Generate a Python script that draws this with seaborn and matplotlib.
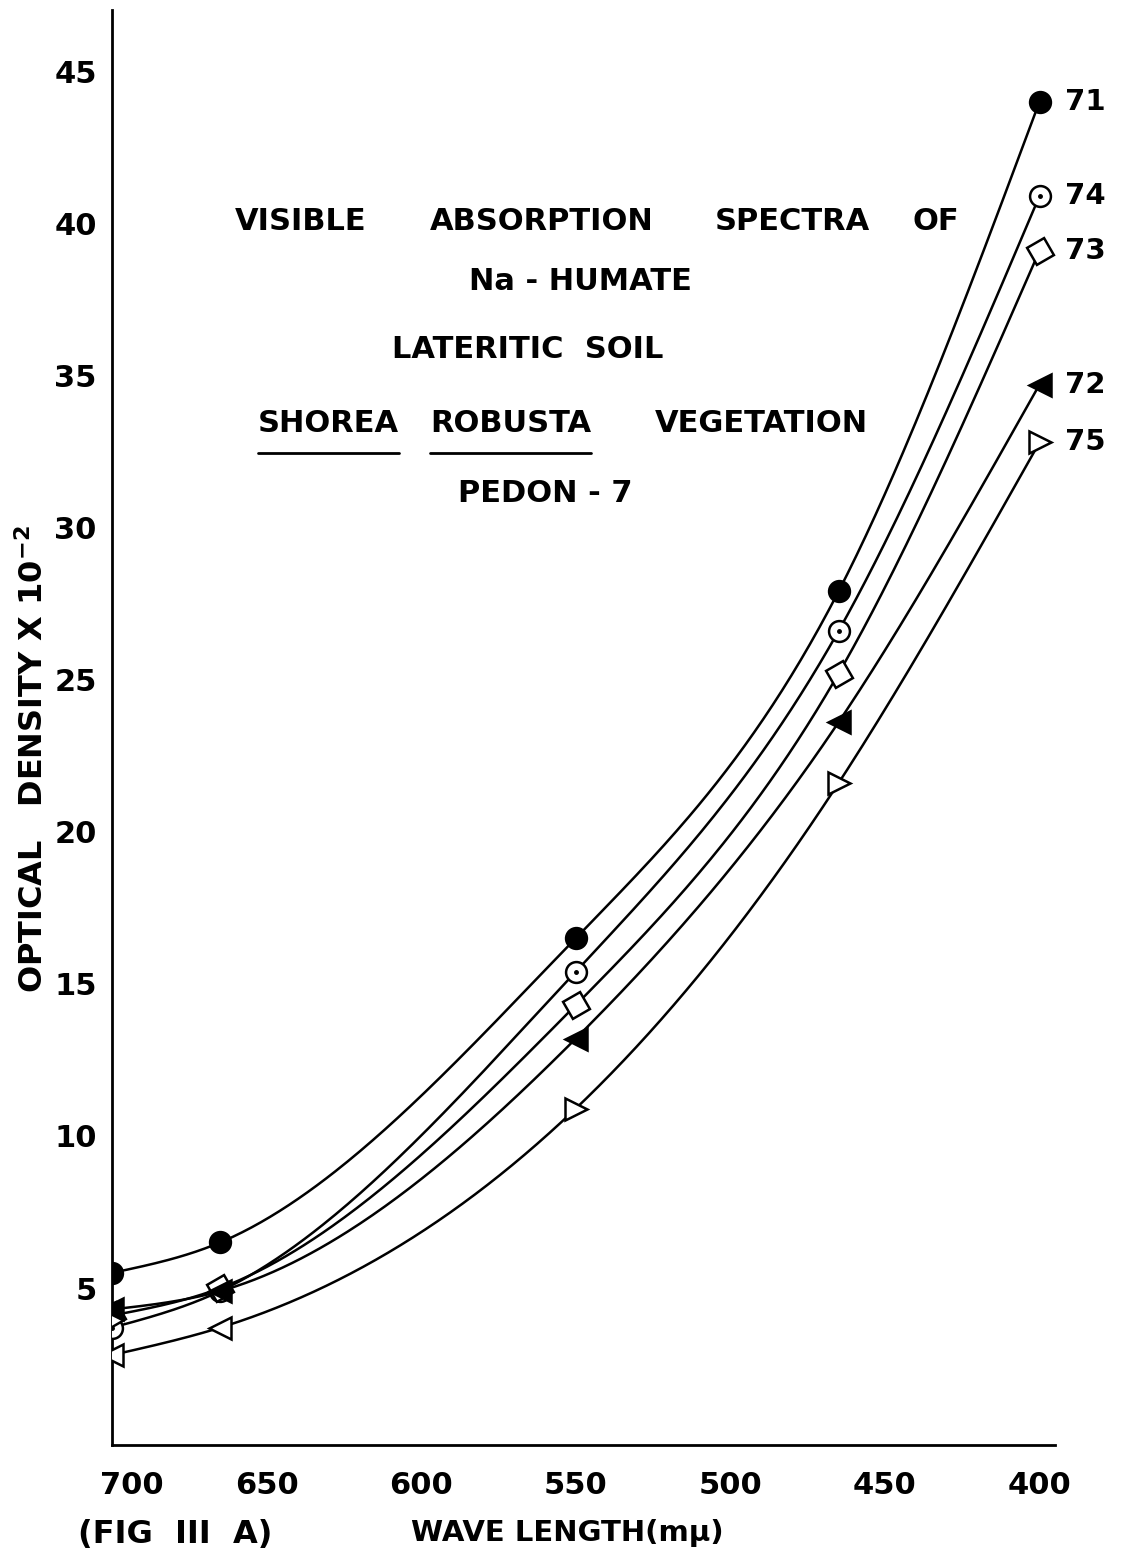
import numpy as np
import pandas as pd
import matplotlib
matplotlib.use("Agg")
import matplotlib.pyplot as plt
import matplotlib.transforms as mtransforms
from matplotlib.lines import Line2D
import seaborn as sns

# Wavelengths (m-mu) at which optical density was measured
wavelength = [700, 665, 550, 465, 400]

# Optical density x 10^-2 for each horizon sample of the pedon
od_71 = [5.5, 6.5, 16.5, 27.9, 44.0]
od_74 = [3.7, 4.9, 15.4, 26.6, 40.9]
od_73 = [4.1, 5.0, 14.3, 25.2, 39.1]
od_72 = [4.3, 4.9, 13.2, 23.6, 34.7]
od_75 = [2.8, 3.7, 10.9, 21.6, 32.8]

sample_ids = ["71", "74", "73", "72", "75"]
series = [od_71, od_74, od_73, od_72, od_75]

y_ticks = [5, 10, 15, 20, 25, 30, 35, 40, 45]
x_ticks = [700, 650, 600, 550, 500, 450, 400]


def natural_spline(x, y, n=300):
    """Smooth curve through the measured points (natural cubic spline)."""
    x = np.asarray(x, float)
    y = np.asarray(y, float)
    o = np.argsort(x)
    x, y = x[o], y[o]
    m = len(x)
    h = np.diff(x)
    A = np.zeros((m, m))
    b = np.zeros(m)
    A[0, 0] = A[-1, -1] = 1.0
    for i in range(1, m - 1):
        A[i, i - 1] = h[i - 1]
        A[i, i] = 2 * (h[i - 1] + h[i])
        A[i, i + 1] = h[i]
        b[i] = 3 * ((y[i + 1] - y[i]) / h[i] - (y[i] - y[i - 1]) / h[i - 1])
    c = np.linalg.solve(A, b)
    bb = (y[1:] - y[:-1]) / h - h * (2 * c[:-1] + c[1:]) / 3
    d = (c[1:] - c[:-1]) / (3 * h)
    xs = np.linspace(x[0], x[-1], n)
    idx = np.clip(np.searchsorted(x, xs) - 1, 0, m - 2)
    t = xs - x[idx]
    ys = y[idx] + bb[idx] * t + c[idx] * t ** 2 + d[idx] * t ** 3
    return xs, ys


sns.set_theme(style="white")
plt.rcParams["font.family"] = ["DejaVu Sans"]

fig = plt.figure(figsize=(11.24, 15.68), dpi=100)
ax = fig.add_axes([0.0996, 0.0784, 0.839, 0.915])

ink = "black"
lw = 1.8

# smooth curves
frames = []
for sid, vals in zip(sample_ids, series):
    xs, ys = natural_spline(wavelength, vals)
    frames.append(pd.DataFrame({"wavelength": xs, "od": ys, "sample": sid}))
curves = pd.concat(frames, ignore_index=True)
sns.lineplot(data=curves, x="wavelength", y="od", units="sample",
             estimator=None, sort=False, color=ink, linewidth=lw,
             legend=False, ax=ax)

# point symbols for each sample
styles = {
    "71": [dict(marker="o", mfc=ink, mec=ink, markersize=15)] * 5,
    "74": [dict(marker="o", mfc="white", mec=ink, markersize=15)] * 5,
    "73": [dict(marker=(4, 0, -15), mfc="white", mec=ink, markersize=20)] * 5,
    "72": [dict(marker="<", mfc=ink, mec=ink, markersize=16)] * 5,
    "75": [dict(marker="<", mfc="white", mec=ink, markersize=16)] * 2
          + [dict(marker=">", mfc="white", mec=ink, markersize=16)] * 3,
}
for sid, vals in zip(sample_ids, series):
    for wl, v, st in zip(wavelength, vals, styles[sid]):
        ax.plot([wl], [v], linestyle="none", markeredgewidth=1.8,
                zorder=4, **st)
    if sid == "74":
        ax.plot(wavelength, vals, linestyle="none", marker="o",
                markersize=2.5, color=ink, zorder=5)

# sample numbers beside the last points
for sid, vals in zip(sample_ids, series):
    ax.annotate(sid, xy=(wavelength[-1], vals[-1]), xytext=(18, 0),
                textcoords="offset points", ha="left", va="center",
                fontsize=21, fontweight="bold", color=ink,
                annotation_clip=False)

ax.set_xlim(700, 395)
ax.set_ylim(-0.16, 47.0)
ax.set_xticks(x_ticks)
ax.set_xticklabels([str(t) for t in x_ticks])
ax.set_yticks(y_ticks)
ax.set_yticklabels([str(t) for t in y_ticks])
ax.tick_params(axis="both", direction="out", length=5, width=1.5,
               color=ink, labelsize=22, labelcolor=ink, pad=6)
for lab in ax.get_xticklabels() + ax.get_yticklabels():
    lab.set_fontweight("bold")
ax.tick_params(axis="x", pad=14)

# nudge the corner label clear of the vertical axis
first = ax.get_xticklabels()[0]
first.set_transform(first.get_transform()
                    + mtransforms.ScaledTranslation(0.2, 0, fig.dpi_scale_trans))

for side in ["top", "right"]:
    ax.spines[side].set_visible(False)
for side in ["left", "bottom"]:
    ax.spines[side].set_color(ink)
    ax.spines[side].set_linewidth(2.0)
ax.grid(False)

ax.set_ylabel(r"OPTICAL   DENSITY X 10$^{\mathbf{-2}}$", fontsize=23,
              fontweight="bold", color=ink, labelpad=14)
ax.yaxis.set_label_coords(-0.066, 0.478)
ax.set_xlabel("")

W, H = 1124.0, 1568.0


def ftext(x, y, s, **kw):
    kw.setdefault("fontsize", 22)
    kw.setdefault("fontweight", "bold")
    kw.setdefault("color", ink)
    kw.setdefault("va", "center")
    return fig.text(x / W, 1 - y / H, s, **kw)


# heading block
ftext(235, 222, "VISIBLE", ha="left")
ftext(430, 222, "ABSORPTION", ha="left")
ftext(715, 222, "SPECTRA", ha="left")
ftext(912, 222, "OF", ha="left")
ftext(580, 282, "Na - HUMATE", ha="center")
ftext(528, 350, "LATERITIC  SOIL", ha="center")
t1 = ftext(258, 423, "SHOREA", ha="left")
t2 = ftext(430, 423, "ROBUSTA", ha="left")
ftext(655, 423, "VEGETATION", ha="left")
ftext(545, 493, "PEDON - 7", ha="center")

# underline the botanical name
fig.canvas.draw()
renderer = fig.canvas.get_renderer()
for t in (t1, t2):
    bb = t.get_window_extent(renderer).transformed(fig.transFigure.inverted())
    yline = bb.y0 - 0.010
    fig.add_artist(Line2D([bb.x0, bb.x1], [yline, yline], color=ink,
                          linewidth=2.0, transform=fig.transFigure))

ftext(175, 1535, "(FIG  III  A)", ha="center", fontsize=23)
ftext(567, 1533, "WAVE LENGTH(m\u03bc)", ha="center", fontsize=21)

fig.savefig("out.png", dpi=100, facecolor="white")
